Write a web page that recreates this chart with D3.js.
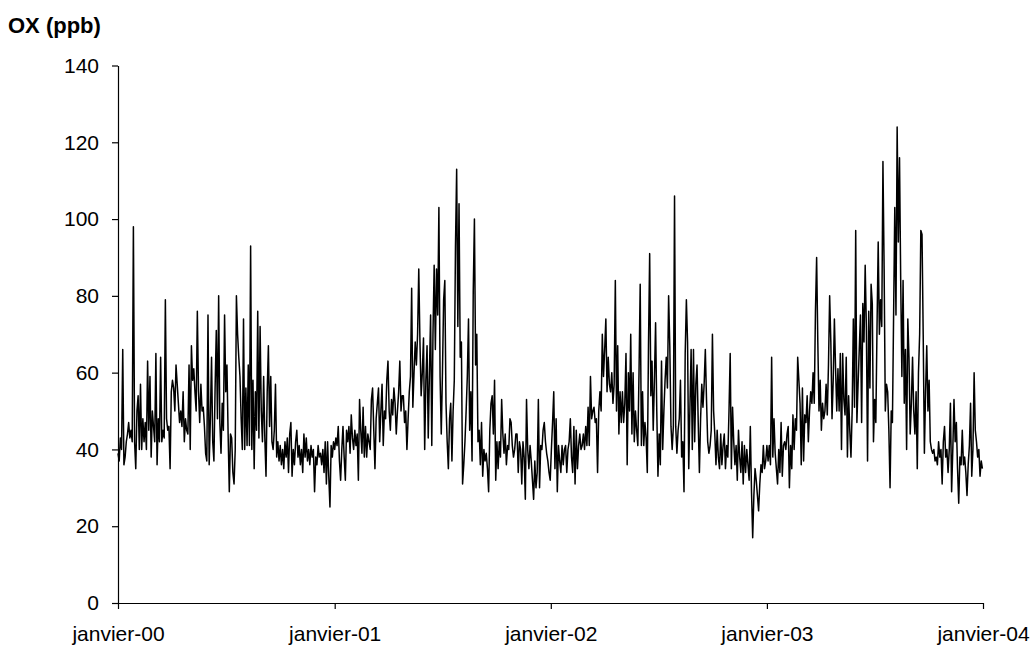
<!DOCTYPE html>
<html><head><meta charset="utf-8">
<script src="https://cdn.jsdelivr.net/npm/d3@7"></script>
<style>body{margin:0;background:#fff}svg{display:block}</style>
</head><body>
<svg id="c" width="1035" height="648"></svg>
<script>
// OX (ppb), one value every 2 days from 1 Jan 2000
const startDate = "2000-01-01";
const stepDays = 2;
const ox2000a = [39,37,43,40,66,36,38,42,44,47,43,45,42,98,42,35,50,54,40,57,40,48,42,47,40,63,45,59,38,50,46,42,65,36,48,42,64,42,45,43,79,48,45,46,35,55,58,56,50,62,57,52,47,50,46,55,42,48,45,44,62,40,67,58,61,55,50,76,55,47,57,50,51,46,39,37,75,36,48,64,42,37,56,71,48,80];
const ox2000b = [47,39,52,45,75,55,62,44,29,44,43,34,31,40,80,70,64,59,48,40,74,40,56,41,62,41,93,40,58,35,55,45,76,43,72,50,42,59,43,33,55,67,46,59,42,40,45,57,38,42,37,41,36,40,35,42,38,43,34,44,47,33,40,36,42,45,38,41,36,40,34,44,38,43,37,40,36,41,38,40,29,38,36,41,38,39,36,40,34,42,31,42,33];
const ox2001a = [25,41,38,42,40,43,41,46,37,32,40,46,38,32,45,42,46,39,49,43,40,45,41,44,32,53,45,39,51,38,46,38,44,42,40,53,56,45,35,48,52,56,42,50,57,41,50,48,58,63,50,45,53,49,56,52,44,50,55,63,50,54,54,47,50,40,48,55,59,82,51,60,68,62,70,87,68,54,60,69,40,58,67,43,60,75,41,70,88,66,87,75,103];
const ox2001b = [59,44,60,79,84,52,42,35,48,52,37,50,58,93,113,72,104,64,68,31,36,42,50,59,74,45,55,37,81,100,62,70,42,45,36,47,33,40,37,39,35,29,45,52,54,44,58,32,42,35,42,38,53,44,39,44,36,41,40,48,47,41,38,40,44,44,34,42,40,31,42,38,27,53,40,35,41,37,32,27,37,30,34,53,30,41,40,45,47,42,39,37,34];
const ox2002a = [32,40,47,55,35,48,29,41,37,34,41,36,40,41,34,40,42,48,38,34,46,31,45,35,41,44,40,41,44,40,46,41,51,41,59,48,50,51,47,48,34,50,55,50,70,59,66,74,55,64,57,55,60,52,57,84,50,67,44,55,47,55,47,52,65,36,60,50,70,44,60,42,50,45,41,60,83,41,55,41,47,43,34,67,91,54,63,45,58,73,50,33,44];
const ox2002b = [36,63,40,50,58,64,56,80,67,46,40,46,106,46,39,45,48,58,38,42,29,65,79,68,35,51,66,40,66,42,57,62,47,34,48,57,51,57,66,53,42,39,41,45,70,50,44,36,45,38,35,44,36,41,44,35,41,38,50,65,35,51,42,36,41,32,45,38,34,42,31,41,34,40,36,32,46,29,17,28,35,32,28,24,31,36,34,41,35,37,41,37,41];
const ox2003a = [36,64,38,48,39,35,31,40,34,47,33,41,42,40,44,46,30,41,35,49,40,48,45,64,58,52,36,56,37,49,47,54,42,50,55,52,60,52,76,90,68,50,58,45,52,48,50,57,49,62,80,68,48,58,74,61,50,61,50,65,40,65,53,49,64,38,54,45,38,50,74,51,97,47,57,66,75,47,78,68,88,72,37,76,56,83,78,42,53,47,72,94,70];
const ox2003b = [79,72,115,87,50,57,55,45,30,50,47,75,103,75,124,94,116,84,59,84,52,66,40,74,64,44,52,64,50,44,55,35,60,70,97,96,70,39,55,67,50,58,42,40,39,40,37,38,36,42,38,40,31,42,46,38,40,34,40,52,29,40,53,42,47,35,26,38,36,45,36,38,34,28,36,41,52,33,40,60,45,42,38,40,33,37,35];
const series = [].concat(ox2000a, ox2000b, ox2001a, ox2001b, ox2002a, ox2002b, ox2003a, ox2003b);

const yTicks = [0, 20, 40, 60, 80, 100, 120, 140];
const xTickDates = ["2000-01-01", "2001-01-01", "2002-01-01", "2003-01-01", "2004-01-01"];
const xTickLabels = ["janvier-00", "janvier-01", "janvier-02", "janvier-03", "janvier-04"];
const yTitle = "OX (ppb)";

(function () {
  const parse = d3.utcParse("%Y-%m-%d");
  const t0 = parse(startDate);
  const data = series.map((v, i) => ({ date: d3.utcDay.offset(t0, i * stepDays), value: v }));

  const svg = d3.select("#c");
  const mL = 118, mR = 983, mT = 65.5, mB = 603;
  const font = "'Liberation Sans', Arial, sans-serif";

  const x = d3.scaleUtc().domain([parse(xTickDates[0]), parse(xTickDates[xTickDates.length - 1])]).range([mL, mR]);
  const y = d3.scaleLinear().domain([0, 140]).range([mB, mT]);

  svg.append("path")
    .datum(data)
    .attr("fill", "none")
    .attr("stroke", "#000")
    .attr("stroke-width", 1.5)
    .attr("stroke-linejoin", "round")
    .attr("d", d3.line().x(d => x(d.date)).y(d => y(d.value)));

  const yAxis = svg.append("g").attr("transform", `translate(${mL},0)`)
    .call(d3.axisLeft(y).tickValues(yTicks).tickSize(6).tickPadding(13).tickSizeOuter(0));
  yAxis.select(".domain").attr("stroke", "#000").attr("stroke-width", 1.2);
  yAxis.selectAll(".tick line").attr("stroke", "#000").attr("stroke-width", 1.2);
  yAxis.selectAll("text").attr("font-family", font).attr("font-size", 21).attr("fill", "#000");

  const xAxis = svg.append("g").attr("transform", `translate(0,${mB})`)
    .call(d3.axisBottom(x).tickValues(xTickDates.map(parse)).tickFormat((d, i) => xTickLabels[i]).tickSize(6).tickPadding(17).tickSizeOuter(0));
  xAxis.select(".domain").attr("stroke", "#000").attr("stroke-width", 1.2);
  xAxis.selectAll(".tick line").attr("stroke", "#000").attr("stroke-width", 1.2);
  xAxis.selectAll("text").attr("font-family", font).attr("font-size", 21).attr("fill", "#000");

  svg.append("text")
    .attr("x", 8).attr("y", 33)
    .attr("font-family", font).attr("font-size", 22).attr("font-weight", "bold")
    .attr("fill", "#000")
    .text(yTitle);
})();
</script>
</body></html>
